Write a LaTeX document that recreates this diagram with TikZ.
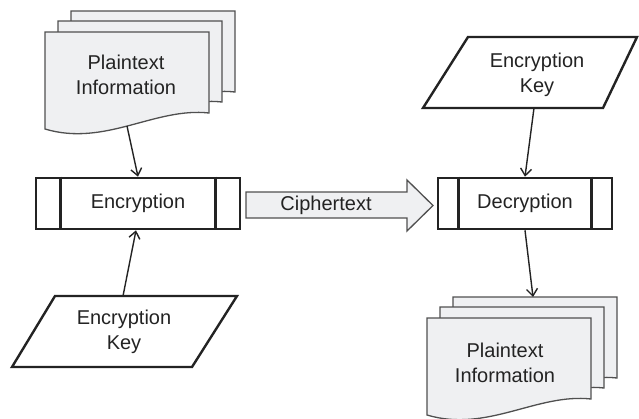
\documentclass[tikz,border=0pt]{standalone}
\usepackage{fontspec}
\setmainfont{Liberation Sans}
\usetikzlibrary{arrows.meta,calc}
\definecolor{pagefill}{RGB}{239,240,242}
\definecolor{pageline}{RGB}{80,80,80}
\definecolor{ink}{RGB}{35,35,35}
\tikzset{
  page/.style={fill=pagefill,draw=pageline,line width=1.3pt},
  procbox/.style={draw=ink,line width=2.6pt,rectangle,inner sep=0pt},
  keyline/.style={draw=ink,line width=2.4pt,line join=miter},
  conn/.style={draw=ink,line width=1.4pt,-{Straight Barb[length=7pt,width=11pt,line width=1.4pt]}},
  lbl/.style={font=\fontsize{20}{25}\selectfont,text=ink,align=center},
  docpage/.pic={\path[page] (0,0) -- (164,0) -- (164,81) .. controls (110,75) and (60,115) .. (0,97) -- cycle;}
}
\begin{document}
\begin{tikzpicture}[x=1pt,y=-1pt]
\useasboundingbox (0,0) rectangle (639,418);
% left document stack
\pic at (71,11) {docpage};
\pic at (58,21) {docpage};
\pic at (45,32) {docpage};
\node[lbl] (doc1) at (126,75) {Plaintext\\Information};
\coordinate (doc1out) at (127,126);
% right document stack
\pic at (453,297) {docpage};
\pic at (440,307) {docpage};
\pic at (427,318) {docpage};
\node[lbl] (doc2) at (505,363) {Plaintext\\Information};
\coordinate (doc2in) at (533,297);
% process boxes
\node[procbox,minimum width=204pt,minimum height=51pt] (enc) at (138,203.5) {};
\draw[draw=ink,line width=2.6pt] ($(enc.north west)+(26,0)$) -- ($(enc.south west)+(26,0)$);
\draw[draw=ink,line width=2.6pt] ($(enc.north east)+(-26,0)$) -- ($(enc.south east)+(-26,0)$);
\node[lbl] (enctext) at (enc.center) {Encryption};
\node[procbox,minimum width=174pt,minimum height=51pt] (dec) at (525,203.5) {};
\draw[draw=ink,line width=2.6pt] ($(dec.north west)+(22,0)$) -- ($(dec.south west)+(22,0)$);
\draw[draw=ink,line width=2.6pt] ($(dec.north east)+(-22,0)$) -- ($(dec.south east)+(-22,0)$);
\node[lbl] (dectext) at (dec.center) {Decryption};
% ciphertext arrow
\path[page,line join=miter] (246,192) -- (407,192) -- (407,180) -- (433,205.5) -- (407,231) -- (407,218) -- (246,218) -- cycle;
\node[lbl] (ct) at (326,205) {Ciphertext};
% keys
\path[keyline] (55,296) -- (237,296) -- (192,367) -- (12,367) -- cycle;
\node[lbl] (key1) at (124,332) {Encryption\\Key};
\coordinate (key1top) at (123,296);
\path[keyline] (468,37) -- (637,37) -- (603,108) -- (423,108) -- cycle;
\node[lbl] (key2) at (537,75) {Encryption\\Key};
\coordinate (key2bot) at (534,108);
% connectors
\draw[conn] (doc1out) -- (enc.north);
\draw[conn] (key1top) -- ($(enc.south)+(-2,0)$);
\draw[conn] (key2bot) -- (dec.north);
\draw[conn] (dec.south) -- (doc2in);
\end{tikzpicture}
\end{document}
